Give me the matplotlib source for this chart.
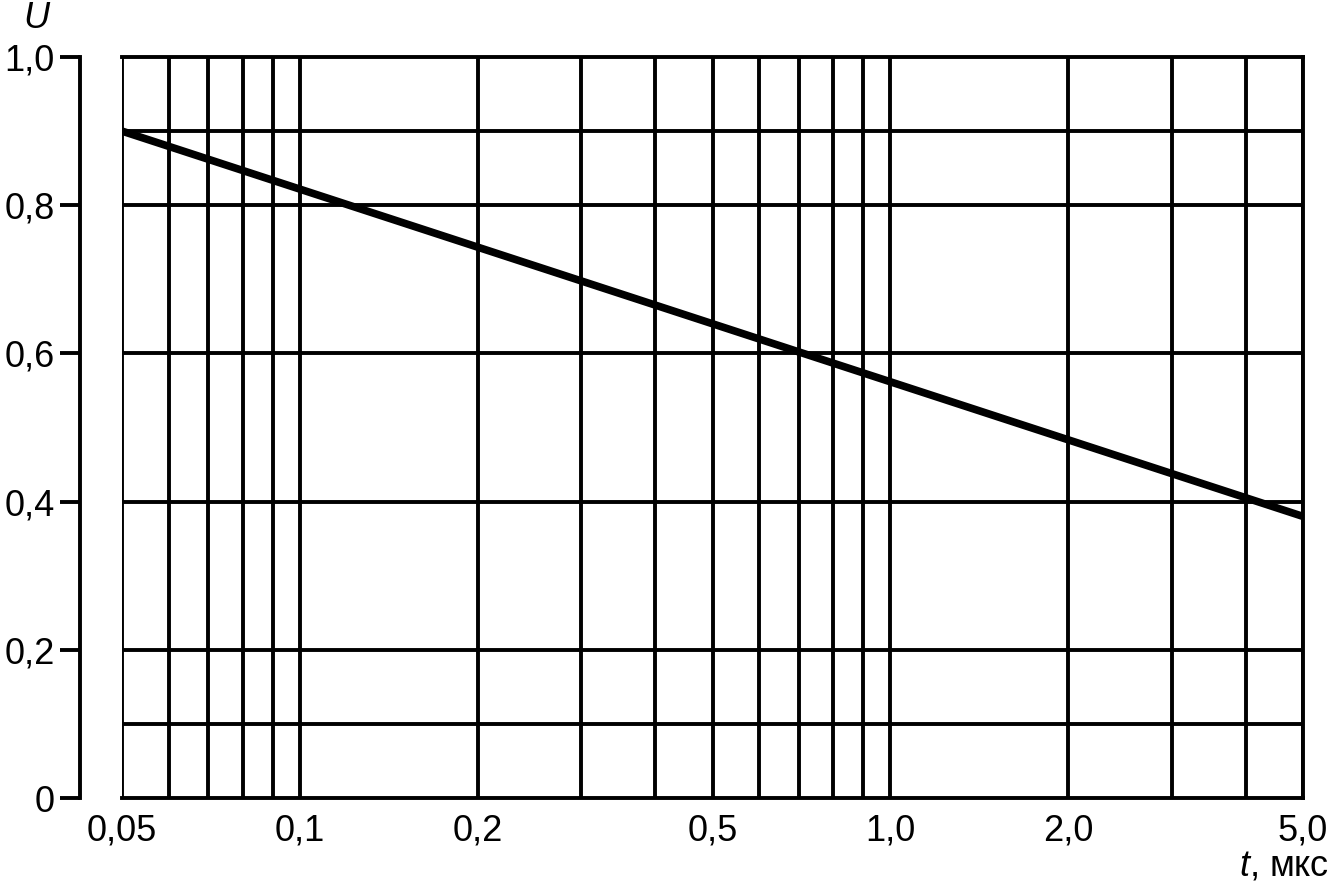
import numpy as np
import matplotlib
matplotlib.use("Agg")
import matplotlib.pyplot as plt

plt.rcParams['font.family'] = ['Liberation Sans', 'DejaVu Sans']
plt.rcParams['mathtext.fontset'] = 'custom'
plt.rcParams['mathtext.it'] = 'Liberation Sans:italic'
plt.rcParams['mathtext.rm'] = 'Liberation Sans'

# curve U(t), straight on the log scale
t_vals = [0.05, 5.0]
u_vals = [0.90, 0.38]

# grid
vlines = [0.05, 0.06, 0.07, 0.08, 0.09, 0.1, 0.2, 0.3, 0.4, 0.5,
          0.6, 0.7, 0.8, 0.9, 1.0, 2.0, 3.0, 4.0, 5.0]
hlines = [0.1, 0.2, 0.4, 0.6, 0.8, 0.9]

xticks = [0.05, 0.1, 0.2, 0.5, 1.0, 2.0, 5.0]
xticklabels = ['0,05', '0,1', '0,2', '0,5', '1,0', '2,0', '5,0']
yticks = [0, 0.2, 0.4, 0.6, 0.8, 1.0]
yticklabels = ['0', '0,2', '0,4', '0,6', '0,8', '1,0']

fig = plt.figure(figsize=(13.38, 8.83), dpi=100)
ax = fig.add_axes([122/1338, 1 - 798/883, (1303-122)/1338, (798-57)/883])

lw = 2.8
for x in vlines:
    ax.axvline(x, color='black', lw=lw, zorder=1)
for y in hlines:
    ax.axhline(y, color='black', lw=lw, zorder=1)

ax.plot(t_vals, u_vals, color='black', lw=5.5, solid_capstyle='butt', zorder=3)

ax.set_xscale('log')
ax.set_xlim(0.05, 5.0)
ax.set_ylim(0, 1.0)

ax.set_xticks(xticks)
ax.set_xticklabels(xticklabels)
ax.xaxis.set_minor_locator(matplotlib.ticker.NullLocator())
ax.set_yticks(yticks)
ax.set_yticklabels(yticklabels)

for s in ['top', 'right', 'bottom', 'left']:
    ax.spines[s].set_linewidth(lw)
ax.spines['left'].set_position(('outward', 30))
ax.spines['left'].set_capstyle('projecting')

ax.tick_params(axis='x', length=0, pad=11, labelsize=26)
ax.tick_params(axis='y', direction='out', length=14.5, width=lw, pad=4, labelsize=26)

fig.text(37/1338, 1 - 28/883, r'$\it{U}$', fontsize=26, ha='center', va='baseline')
fig.text(1329/1338, 1 - 866/883, r'$\it{t}$, мкс', fontsize=26, ha='right', va='center')

fig.savefig('out.png', dpi=100)
